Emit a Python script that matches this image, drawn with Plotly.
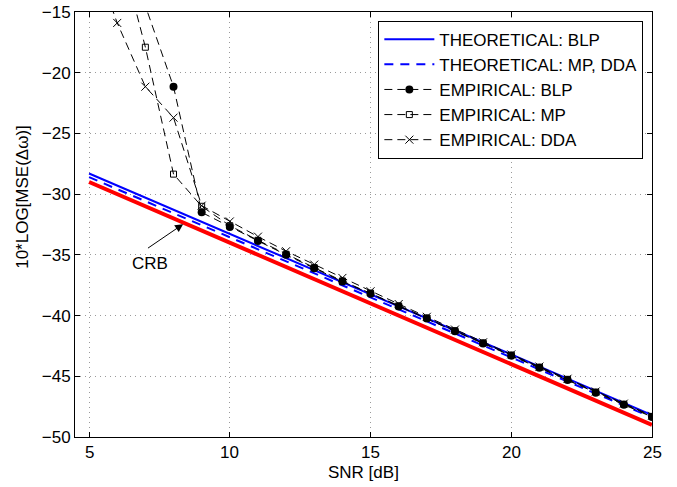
import plotly.graph_objects as go

# ---------------- data ----------------
snr_theory = [5, 10, 15, 20, 25]
crb = [-29.0, -34.0, -39.0, -44.0, -49.0]
theo_blp = [-28.3, -33.3, -38.25, -43.2, -48.2]
theo_mp_dda = [-28.6, -33.55, -38.5, -43.45, -48.4]

snr = list(range(5, 26))
emp_blp = [-2.0, -8.0, -14.5, -21.15, -31.5, -32.7, -33.85, -35.0, -36.1, -37.2, -38.2,
           -39.25, -40.25, -41.3, -42.3, -43.3, -44.3, -45.3, -46.35, -47.35, -48.35]
emp_mp = [-3.0, -9.0, -17.9, -28.35, -31.0, -32.6, -33.8, -34.95, -36.05, -37.15, -38.15,
          -39.2, -40.2, -41.25, -42.25, -43.25, -44.25, -45.25, -46.3, -47.3, -48.3]
emp_dda = [-9.5, -15.9, -21.15, -23.7, -30.95, -32.25, -33.5, -34.7, -35.8, -36.9, -38.0,
           -39.05, -40.1, -41.15, -42.2, -43.2, -44.2, -45.2, -46.25, -47.25, -48.25]

x_ticks = [5, 10, 15, 20, 25]
x_tick_labels = ["5", "10", "15", "20", "25"]
y_ticks = [-50, -45, -40, -35, -30, -25, -20, -15]

FONT = "Liberation Sans, Arial, sans-serif"
FS = 17
EMP_DASH = "8px,5px"

fig = go.Figure()

fig.add_trace(go.Scatter(x=snr_theory, y=crb, mode="lines", showlegend=False,
                         line=dict(color="#ff0000", width=4)))
fig.add_trace(go.Scatter(x=snr_theory, y=theo_blp, mode="lines", name="THEORETICAL: BLP",
                         line=dict(color="#0000ff", width=2)))
fig.add_trace(go.Scatter(x=snr_theory, y=theo_mp_dda, mode="lines", name="THEORETICAL: MP, DDA",
                         line=dict(color="#0000ff", width=2, dash="9px,7px")))
fig.add_trace(go.Scatter(x=snr, y=emp_blp, mode="lines+markers", name="EMPIRICAL: BLP",
                         line=dict(color="black", width=1, dash=EMP_DASH),
                         marker=dict(symbol="circle", size=8, color="black")))
fig.add_trace(go.Scatter(x=snr, y=emp_mp, mode="lines+markers", name="EMPIRICAL: MP",
                         line=dict(color="black", width=1, dash=EMP_DASH),
                         marker=dict(symbol="square-open", size=6, color="black",
                                     line=dict(width=1, color="black"))))
fig.add_trace(go.Scatter(x=snr, y=emp_dda, mode="lines+markers", name="EMPIRICAL: DDA",
                         line=dict(color="black", width=1, dash=EMP_DASH),
                         marker=dict(symbol="x-thin-open", size=8, color="black",
                                     line=dict(width=1, color="black"))))

# CRB arrow + label
fig.add_annotation(x=8.34, y=-32.47, xref="x", yref="y", text="", showarrow=True,
                   ax=-36.6, ay=25, arrowhead=2, arrowsize=1.6, arrowwidth=1,
                   arrowcolor="black")
fig.add_annotation(x=7.16, y=-35.75, xref="x", yref="y", text="CRB", showarrow=False,
                   font=dict(family=FONT, size=FS, color="black"),
                   xanchor="center", yanchor="middle")

# x tick labels (placed closer to the axis, as in the reference)
for xv, lab in zip(x_ticks, x_tick_labels):
    fig.add_annotation(x=xv, y=-0.0367, xref="x", yref="paper", text=lab,
                       showarrow=False, font=dict(family=FONT, size=FS, color="black"),
                       xanchor="center", yanchor="middle")

# axis titles
fig.add_annotation(x=-0.0924, y=0.5644, xref="paper", yref="paper",
                   text="10*LOG[MSE(\u0394\u03c9)]", textangle=-90, showarrow=False,
                   font=dict(family=FONT, size=FS, color="black"),
                   xanchor="center", yanchor="middle")
fig.add_annotation(x=0.5, y=-0.0824, xref="paper", yref="paper", text="SNR [dB]",
                   showarrow=False, font=dict(family=FONT, size=FS, color="black"),
                   xanchor="center", yanchor="middle")

axis_common = dict(showline=True, linecolor="black", linewidth=1, mirror="ticks",
                   ticks="inside", ticklen=5, tickcolor="black", automargin=False,
                   showgrid=True, gridcolor="#9a9a9a", gridwidth=1, griddash="1px,4px",
                   zeroline=False, tickfont=dict(family=FONT, size=FS, color="black"))

fig.update_xaxes(range=[4.5, 25], tickvals=x_ticks, showticklabels=False, **axis_common)
fig.update_yaxes(range=[-50, -15], tickvals=y_ticks, **axis_common)

fig.update_layout(
    width=677, height=487, autosize=False,
    margin=dict(l=75, r=25, t=12, b=50),
    paper_bgcolor="white", plot_bgcolor="white",
    font=dict(family=FONT, size=FS, color="black"),
    legend=dict(x=0.985, y=0.9795, xanchor="right", yanchor="top",
                bgcolor="white", bordercolor="black", borderwidth=1,
                font=dict(family=FONT, size=FS, color="black"),
                itemwidth=50, tracegroupgap=0),
)

fig.write_html("out.html",
               config={"displayModeBar": False},
               post_script="document.body.style.margin='0px';document.body.style.overflow='hidden';")
